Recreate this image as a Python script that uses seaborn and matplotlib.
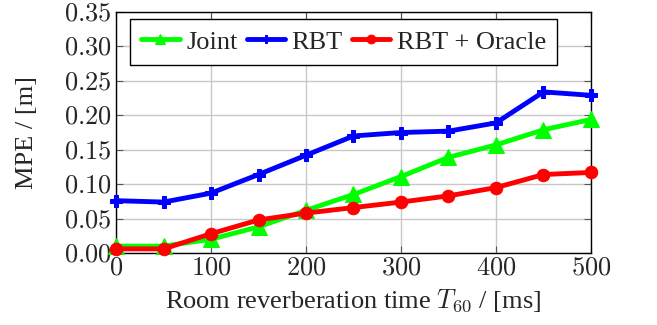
import numpy as np
import pandas as pd
import matplotlib
matplotlib.use("Agg")
import matplotlib.pyplot as plt
import seaborn as sns
from matplotlib.ticker import FuncFormatter

# data
t60 = [0, 50, 100, 150, 200, 250, 300, 350, 400, 450, 500]
joint = [0.010, 0.010, 0.020, 0.038, 0.062, 0.085, 0.111, 0.139, 0.157, 0.179, 0.194]
rbt = [0.076, 0.074, 0.087, 0.114, 0.142, 0.170, 0.175, 0.177, 0.189, 0.234, 0.229]
rbt_oracle = [0.006, 0.006, 0.028, 0.048, 0.058, 0.066, 0.074, 0.083, 0.095, 0.114, 0.117]

df = pd.DataFrame({"T60": t60, "Joint": joint, "RBT": rbt, "RBT + Oracle": rbt_oracle})
df_long = df.melt(id_vars="T60", var_name="Method", value_name="MPE")

sns.set_style("ticks")
plt.rcParams["font.family"] = ["Liberation Serif", "DejaVu Serif"]
plt.rcParams["mathtext.fontset"] = "cm"

fig = plt.figure(figsize=(6.57, 3.25), dpi=100)
ax = fig.add_axes([0.1766, 0.2215, 0.7229, 0.7415])

palette = {"Joint": "#00ff00", "RBT": "#0000ff", "RBT + Oracle": "#ff0000"}
markers = {"Joint": "^", "RBT": "P", "RBT + Oracle": "o"}
sizes = {"Joint": 11, "RBT": 8, "RBT + Oracle": 9}
for name in ["Joint", "RBT", "RBT + Oracle"]:
    sub = df_long[df_long["Method"] == name]
    sns.lineplot(data=sub, x="T60", y="MPE", ax=ax, color=palette[name],
                 marker=markers[name], markersize=sizes[name], linewidth=3.5,
                 markeredgecolor=palette[name], label=name, clip_on=False, zorder=3)

ax.set_xlim(0, 500)
ax.set_ylim(0, 0.35)
ax.set_xticks([0, 100, 200, 300, 400, 500])
ax.set_yticks(np.arange(0, 0.351, 0.05))
ax.yaxis.set_major_formatter(FuncFormatter(lambda v, p: r"$%.2f$" % v))
ax.xaxis.set_major_formatter(FuncFormatter(lambda v, p: r"$%d$" % v))
ax.grid(True, color="#c8c8c8", linewidth=1)
ax.tick_params(direction="in", length=5, labelsize=19, top=True, right=True,
               color="#555555", pad=3)
for s in ax.spines.values():
    s.set_color("black")
    s.set_linewidth(1)

ax.set_xlabel(r"Room reverberation time $T_{60}$ / [ms]", fontsize=19, labelpad=6)
ax.set_ylabel("MPE / [m]", fontsize=19, labelpad=19)

leg = ax.legend(loc="upper left", ncol=3, fontsize=19, frameon=True, fancybox=False,
                edgecolor="black", handlelength=1.45, handletextpad=0.25,
                columnspacing=0.35, borderpad=0.42, markerscale=0.7,
                borderaxespad=0, bbox_to_anchor=(0.03, 0.971))
leg.get_frame().set_linewidth(1)
leg.get_frame().set_alpha(1)

fig.savefig("out.png", dpi=100)
